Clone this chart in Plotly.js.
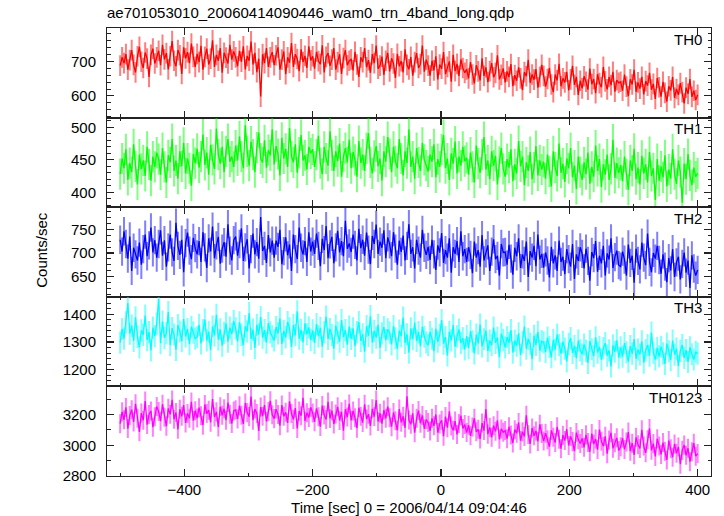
<!DOCTYPE html>
<html><head><meta charset="utf-8">
<script src="https://cdn.plot.ly/plotly-3.0.1.min.js"></script>
<style>html,body{margin:0;padding:0;background:#fff}#chart{width:724px;height:516px}</style>
</head><body><div id="chart"></div>
<script>
// time grid: bins start at -500 s, one value every 3 s
const tStart = -500, tStep = 3;

const th0 = [
688,712,695,721,676,704,733,690,668,715,742,699,681,726,708,655,719,737,694,712,
731,689,748,706,724,677,715,759,702,686,733,718,664,741,709,727,695,752,713,684,
722,698,745,676,713,737,691,708,761,684,719,702,739,667,725,711,694,748,705,729,
712,686,731,699,744,677,716,702,758,691,725,669,708,598,721,695,739,684,712,727,
689,718,741,676,705,729,663,712,696,753,684,721,707,672,735,698,716,681,744,703,
715,679,728,701,692,747,668,713,724,687,705,739,676,698,721,664,710,733,689,702,
706,674,728,691,655,712,698,739,683,704,667,721,695,746,679,688,714,661,702,725,
671,709,694,652,722,686,701,668,735,690,677,713,659,698,724,681,692,746,670,705,
688,659,702,674,715,648,691,679,727,663,684,700,641,719,672,693,658,706,681,667,
677,651,698,662,636,689,671,645,709,658,683,640,672,695,654,667,718,648,661,680,
639,671,655,692,628,660,644,683,651,617,669,657,705,638,662,647,678,624,655,690,
658,627,649,681,633,611,662,645,693,628,651,639,670,616,648,687,632,655,603,644,
622,657,641,618,679,634,649,608,663,637,625,684,642,619,655,631,670,612,646,638,
641,615,662,627,599,648,633,676,612,639,621,655,604,643,630,667,618,635,591,652,
625,598,641,609,583,628,616,655,594,620,603,637,611,578,624,606,649,597,615,588,
603];

const th1 = [
428,452,437,466,419,445,431,474,440,412,458,436,449,425,470,443,418,455,439,461,
451,427,468,439,415,457,446,482,433,449,421,463,440,476,429,452,437,410,459,445,
467,438,455,489,442,461,427,473,450,436,498,458,444,470,431,463,482,447,455,439,
472,449,486,455,437,503,463,441,478,458,431,469,492,452,446,480,438,465,457,497,
443,471,459,426,484,452,467,439,499,455,446,474,430,461,488,449,457,435,470,460,
466,439,458,487,445,428,470,452,441,494,457,433,463,448,475,424,455,468,446,481,
437,462,450,424,479,445,458,433,468,491,446,429,456,471,440,452,418,463,447,485,
459,431,470,448,437,482,452,426,463,445,497,439,455,421,468,446,433,476,450,441,
432,458,447,474,423,451,439,466,488,437,452,419,460,444,478,429,455,441,470,448,
453,427,461,439,415,472,444,430,458,485,435,449,420,463,441,456,412,447,468,436,
424,451,438,466,417,443,429,479,440,455,411,446,433,462,420,438,471,426,449,435,
447,421,458,432,409,463,438,425,475,430,444,416,452,437,468,423,441,405,455,431,
419,446,428,461,413,439,424,472,433,451,408,443,427,458,419,436,481,422,445,430,
442,417,455,428,404,449,433,467,420,438,412,456,429,443,415,462,425,437,388,451,
418,440,423,457,409,435,421,466,428,413,449,431,384,444,420,459,426,411,438,424,
429];

const th2 = [
728,703,746,719,688,735,662,711,697,684,722,675,708,739,693,716,754,701,727,690,
719,748,694,727,671,712,739,701,683,764,715,696,728,659,721,743,705,687,732,710,
697,725,681,744,712,668,731,703,756,689,716,734,677,709,723,692,761,705,684,727,
735,694,719,752,683,712,729,667,708,741,697,723,688,776,704,715,679,738,701,726,
690,726,713,749,676,704,733,695,718,662,739,708,687,754,711,697,725,681,744,703,
724,698,741,715,672,730,706,757,689,718,734,678,712,747,701,725,693,768,709,720,
702,739,717,684,751,710,728,694,743,707,676,736,719,760,698,724,711,748,689,733,
718,693,744,709,675,726,702,737,684,715,761,698,712,667,728,705,690,749,711,696,
713,685,728,697,664,716,701,742,679,706,690,731,658,712,698,725,681,746,693,708,
681,712,696,657,724,690,706,671,738,684,699,716,662,703,729,687,694,652,719,701,
702,675,717,688,654,711,693,731,668,697,683,724,649,704,690,715,672,739,686,698,
669,701,684,648,713,678,695,662,726,681,692,655,708,687,671,719,645,697,683,712,
698,667,709,683,641,702,689,725,660,694,678,715,652,699,686,731,668,691,705,674,
671,703,686,652,718,679,694,637,709,683,665,722,690,674,741,681,659,700,688,715,
685,656,697,671,638,689,663,708,649,680,692,644,677,701,658,684,626,695,667,652,
664];

const th3 = [
1298,1347,1312,1371,1440,1330,1359,1304,1389,1318,1281,1342,1326,1395,1307,1336,1270,1352,1321,1366,
1455,1296,1374,1315,1332,1408,1289,1350,1327,1272,1361,1338,1303,1383,1320,1347,1292,1355,1334,1312,
1318,1362,1295,1343,1381,1306,1337,1271,1356,1324,1398,1309,1346,1287,1333,1367,1301,1352,1329,1375,
1349,1302,1371,1326,1289,1357,1338,1404,1311,1345,1279,1362,1327,1390,1316,1343,1298,1368,1335,1320,
1306,1354,1331,1385,1293,1340,1317,1372,1349,1282,1361,1325,1411,1312,1344,1299,1367,1328,1353,1308,
1342,1297,1365,1320,1351,1283,1336,1392,1311,1347,1325,1276,1359,1334,1301,1379,1318,1343,1290,1356,
1311,1349,1286,1336,1372,1304,1328,1265,1357,1322,1393,1298,1340,1316,1362,1279,1331,1354,1307,1346,
1334,1291,1357,1313,1276,1341,1322,1388,1297,1328,1262,1349,1310,1370,1304,1336,1285,1355,1319,1299,
1289,1336,1312,1267,1348,1301,1325,1379,1294,1318,1252,1337,1306,1361,1283,1320,1345,1296,1314,1273,
1321,1278,1339,1302,1259,1327,1295,1363,1284,1310,1341,1268,1305,1289,1352,1297,1316,1245,1330,1308,
1281,1318,1297,1343,1262,1305,1287,1331,1253,1300,1356,1276,1311,1294,1238,1322,1290,1337,1269,1303,
1299,1264,1316,1282,1245,1308,1273,1327,1289,1258,1301,1276,1230,1293,1314,1261,1286,1242,1305,1270,
1256,1291,1268,1225,1303,1274,1249,1317,1262,1283,1236,1278,1296,1251,1270,1212,1288,1265,1306,1244,
1281,1247,1296,1263,1229,1285,1258,1311,1240,1273,1255,1302,1226,1270,1289,1251,1334,1262,1237,1279,
1248,1283,1259,1221,1294,1266,1235,1305,1254,1276,1213,1268,1289,1243,1271,1228,1281,1256,1237,1265,
1258];

const th0123 = [
3141,3218,3166,3247,3109,3195,3232,3152,3271,3176,3088,3210,3163,3289,3135,3201,3224,3118,3186,3253,
3220,3157,3268,3183,3125,3241,3202,3296,3170,3214,3104,3235,3189,3262,3146,3208,3177,3283,3161,3226,
3178,3245,3192,3131,3266,3207,3229,3150,3301,3185,3218,3119,3251,3196,3238,3164,3279,3203,3142,3224,
3231,3172,3258,3196,3140,3276,3213,3187,3318,3164,3236,3208,3093,3249,3190,3263,3155,3221,3290,3199,
3174,3236,3201,3128,3262,3189,3215,3146,3287,3207,3169,3243,3110,3224,3193,3309,3158,3212,3181,3248,
3210,3153,3241,3186,3122,3259,3197,3168,3283,3175,3226,3139,3204,3251,3162,3218,3096,3235,3184,3270,
3163,3224,3179,3112,3245,3190,3148,3267,3172,3203,3126,3238,3186,3295,3155,3209,3141,3230,3176,3252,
3179,3121,3214,3160,3098,3236,3150,3189,3113,3320,3165,3137,3208,3082,3176,3227,3144,3195,3108,3168,
3148,3094,3176,3127,3201,3083,3139,3163,3059,3187,3115,3222,3126,3098,3158,3071,3142,3193,3110,3135,
3083,3131,3062,3119,3176,3088,3104,3041,3145,3096,3237,3073,3117,3052,3128,3091,3163,3039,3107,3085,
3096,3043,3121,3067,3015,3102,3079,3149,3031,3088,3058,3196,3071,3009,3113,3062,3094,3025,3137,3077,
3028,3079,3036,2991,3097,3052,3018,3121,3040,2978,3066,3031,3105,2999,3058,3024,2962,3083,3037,3012,
3045,2987,3068,3019,2958,3077,3008,3041,2972,3103,3026,2994,3059,2945,3034,3082,2981,3016,3049,2966,
2990,3047,2973,3021,3086,2962,3014,2938,3052,3003,2979,3101,2995,2951,3036,3110,2968,3011,2927,3043,
2996,2941,3018,2962,2905,3031,2977,2922,3009,2948,2989,2877,2967,3002,2935,2981,2893,2958,3014,2929,
2946];

const names = ['TH0','TH1','TH2','TH3','TH0123'];
const errs = [30, 24, 30, 40, 62];
const tickLabelsX = [-400, -200, 0, 200, 400];

const series = [th0, th1, th2, th3, th0123];
const colors = ['#ff0000','#00ff00','#0000ff','#00ffff','#ff00ff'];
const errColors = ['rgba(255,0,0,0.5)','rgba(0,255,0,0.5)','rgba(0,0,255,0.5)','rgba(0,255,255,0.5)','rgba(255,0,255,0.5)'];
const yRanges = [[537,797],[377,515],[607,797],[1140,1463],[2800,3384]];
const yDticks = [100, 50, 50, 100, 200];
const yMinor = [20, 10, 12.5, 20, 100];
const xRange = [-520.5, 420.8];
const time = th0.map((_, i) => tStart + i * tStep);

const font = {family: '"Liberation Sans", Arial, Helvetica, sans-serif', size: 15, color: '#000'};
const lineCol = '#222';

const traces = [];
const layout = {
  width: 724, height: 516,
  margin: {l: 107, r: 13, t: 28, b: 40},
  paper_bgcolor: '#fff', plot_bgcolor: '#fff',
  showlegend: false,
  font: font,
  title: {text: 'ae701053010_20060414090446_wam0_trn_4band_long.qdp', x: 107/724, xref: 'container', xanchor: 'left',
          y: 1 - 13/516, yref: 'container', yanchor: 'middle', font: font},
  annotations: [],
};

for (let i = 0; i < 5; i++) {
  const k = i + 1;
  const xs = k === 1 ? '' : String(k);
  traces.push({
    type: 'scatter', mode: 'lines',
    x: time, y: series[i],
    xaxis: 'x' + xs, yaxis: 'y' + xs,
    line: {color: colors[i], width: 1.3},
    error_y: {type: 'constant', value: errs[i], color: errColors[i], thickness: 2, width: 0},
    hoverinfo: 'skip'
  });
  layout['xaxis' + xs] = {
    domain: [0, 1], anchor: 'y' + xs, range: xRange,
    matches: k === 1 ? undefined : 'x',
    tickmode: 'array', tickvals: tickLabelsX, ticktext: tickLabelsX.map(v => v < 0 ? '\u2212' + Math.abs(v) : String(v)),
    ticks: 'inside', ticklen: 7, tickwidth: 1.2, tickcolor: lineCol,
    minor: {dtick: 100, tick0: 0, ticks: 'inside', ticklen: 3.5, tickwidth: 1, tickcolor: lineCol, showgrid: false},
    showline: true, linecolor: lineCol, linewidth: 1, mirror: 'allticks',
    showgrid: false, zeroline: false,
    showticklabels: k === 5, tickfont: font,
  };
  layout['yaxis' + xs] = {
    domain: [(4 - i) * 0.2, (5 - i) * 0.2], anchor: 'x' + xs, range: yRanges[i],
    dtick: yDticks[i], tick0: 0,
    ticks: 'inside', ticklen: 7, tickwidth: 1.2, tickcolor: lineCol,
    minor: {dtick: yMinor[i], tick0: 0, ticks: 'inside', ticklen: 3.5, tickwidth: 1, tickcolor: lineCol, showgrid: false},
    showline: true, linecolor: lineCol, linewidth: 1, mirror: 'allticks',
    showgrid: false, zeroline: false, tickfont: font, ticklabelstandoff: 7,
  };
  layout.annotations.push({
    text: names[i], xref: 'paper', yref: 'y' + xs + ' domain',
    x: (704 - 107) / 604, y: 1, xanchor: 'right', yanchor: 'middle', yshift: -11,
    showarrow: false, font: font
  });
}
layout.xaxis5.title = {text: 'Time [sec] 0 = 2006/04/14 09:04:46', font: font, standoff: 5};
layout.annotations.push({
  text: 'Counts/sec', xref: 'paper', yref: 'paper', x: (42 - 107) / 604, y: 0.505,
  xanchor: 'center', yanchor: 'middle', textangle: -90, showarrow: false, font: font
});

Plotly.newPlot('chart', traces, layout, {displayModeBar: false, staticPlot: true});
</script></body></html>
